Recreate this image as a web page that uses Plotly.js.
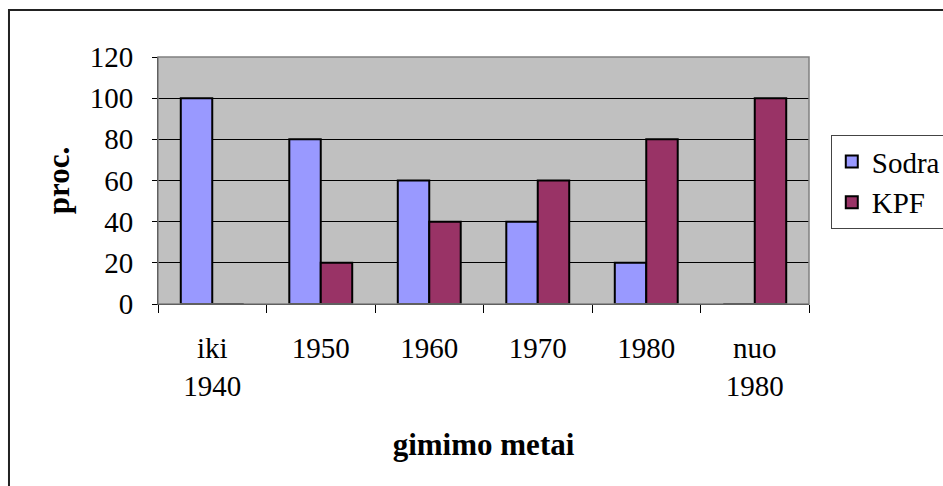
<!DOCTYPE html>
<html>
<head>
<meta charset="utf-8">
<script src="https://cdn.plot.ly/plotly-3.0.1.min.js"></script>
<style>html,body{margin:0;padding:0;background:#fff;}#chart{width:943px;height:486px;}</style>
</head>
<body>
<div id="chart"></div>
<script>
const categories = ["iki<br>1940", "1950", "1960", "1970", "1980", "nuo<br>1980"];
const sodra = [100, 80, 60, 40, 20, 0];
const kpf = [0, 20, 40, 60, 80, 100];
const yTicks = [0, 20, 40, 60, 80, 100, 120];

const FONT = "Liberation Serif";

const traces = [
  {type: 'bar', name: 'Sodra', x: categories, y: sodra,
   marker: {color: '#9999ff', line: {color: '#000', width: 2}}},
  {type: 'bar', name: 'KPF', x: categories, y: kpf,
   marker: {color: '#993366', line: {color: '#000', width: 2}}}
];

const layout = {
  width: 943, height: 486,
  margin: {l: 158, r: 134, t: 57, b: 182},
  paper_bgcolor: '#fff', plot_bgcolor: '#c0c0c0',
  font: {family: FONT, color: '#000', size: 29},
  barmode: 'group', bargap: 0.42, bargroupgap: 0,
  showlegend: true,
  legend: {xref: 'container', yref: 'container', x: 0.881, y: 0.722, xanchor: 'left', yanchor: 'top',
           bgcolor: '#fff', bordercolor: '#444', borderwidth: 1,
           font: {family: FONT, size: 29, color: '#000'}},
  xaxis: {
    type: 'category', tickson: 'boundaries', ticks: 'outside', ticklen: 8, tickcolor: '#000', tickwidth: 1,
    showline: true, linecolor: '#000', linewidth: 1, showgrid: false,
    tickfont: {family: FONT, size: 29, color: '#000'}, ticklabelstandoff: 18,
    title: {text: '<b>gimimo metai</b>', font: {family: FONT, size: 31, color: '#000'}, standoff: 32},
    automargin: false
  },
  yaxis: {
    range: [0, 120], tickvals: yTicks, ticktext: yTicks.map(String),
    ticks: 'outside', ticklen: 5, tickcolor: '#000', tickwidth: 1,
    showline: true, linecolor: '#000', linewidth: 1,
    showgrid: true, gridcolor: '#000', gridwidth: 1, zeroline: false,
    tickfont: {family: FONT, size: 29, color: '#000'}, ticklabelstandoff: 13,
    title: {text: '<b>proc.</b>', font: {family: FONT, size: 31, color: '#000'}, standoff: 10},
    automargin: true
  },
  shapes: [
    {type: 'rect', xref: 'paper', yref: 'paper', x0: 0, x1: 1, y0: 0, y1: 1,
     line: {color: '#808080', width: 1.5}, fillcolor: 'rgba(0,0,0,0)', layer: 'above'},
    {type: 'rect', xref: 'paper', yref: 'paper', x0: -0.2289, x1: 1.4, y0: -1.0, y1: 1.190,
     line: {color: '#222', width: 2}, fillcolor: 'rgba(0,0,0,0)', layer: 'below'}
  ]
};

Plotly.newPlot('chart', traces, layout, {displayModeBar: false, staticPlot: true});
</script>
</body>
</html>
